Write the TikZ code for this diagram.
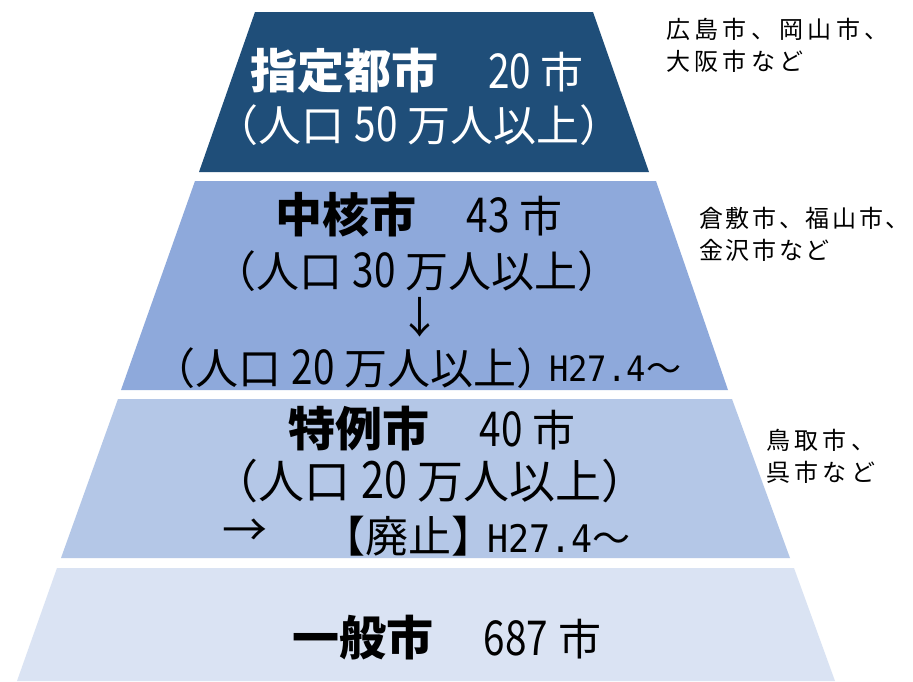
\documentclass[tikz,border=0pt]{standalone}
\usepackage{fontspec}
\newfontfamily\jp{Noto Sans CJK JP}
\newfontfamily\jpsp[LetterSpace=18]{Noto Sans CJK JP}
\newfontfamily\jpspn[LetterSpace=11]{Noto Sans CJK JP}
\newfontfamily\monof{DejaVu Sans Mono}
\definecolor{bandA}{HTML}{1F4E79}
\definecolor{bandB}{HTML}{8EA9DB}
\definecolor{bandC}{HTML}{B4C7E7}
\definecolor{bandD}{HTML}{DAE3F3}
\newcommand\dg[1]{\scalebox{0.9}[1.12]{#1}}
\newcommand\bigb[1]{{\fontsize{47}{47}\selectfont\bfseries #1}}
\newcommand\numr[1]{{\fontsize{43}{43}\selectfont\dg{#1} 市}}
\newcommand\midr[1]{{\fontsize{43}{43}\selectfont #1}}
\newcommand\hsm[2]{{\fontsize{#1}{#1}\selectfont\scalebox{0.92}[1]{\monof #2}\jp ～}}
\begin{document}
\begin{tikzpicture}[x=1pt,y=-1pt,
  txt/.style={inner sep=0pt, font=\jp},
  note/.style={inner sep=0pt, anchor=north west, align=left,
    font=\jpsp\fontsize{24}{32}\selectfont}]
\useasboundingbox (0,0) rectangle (913,681);
\fill[white] (0,0) rectangle (913,681);
% pyramid bands
\fill[bandA] (255,12) -- (593,12) -- (649,172) -- (199,172) -- cycle;
\fill[bandB] (195,181) -- (656,181) -- (728,390) -- (121,390) -- cycle;
\fill[bandC] (118,399) -- (732,399) -- (790,558) -- (61,558) -- cycle;
\fill[bandD] (57,568) -- (794,568) -- (835,681) -- (17,681) -- cycle;
% band 1
\node[txt, text=white] (t1a) at (417,71) {\bigb{指定都市}\hspace{50pt}\numr{20}};
\node[txt, text=white] (t1b) at (419,125) {\midr{（人口 \dg{50} 万人以上）}};
% band 2
\node[txt] (t2a) at (419,215) {\bigb{中核市}\hspace{50pt}\numr{43}};
\node[txt] (t2b) at (417,271) {\midr{（人口 \dg{30} 万人以上）}};
\node[txt] (t2c) at (420,317) {\midr{↓}};
\node[txt] (t2d) at (356,368) {\midr{（人口 \dg{20} 万人以上）}};
\node[txt, anchor=west] (t2e) at (549,369) {\hsm{35}{H27.4}};
% band 3
\node[txt] (t3a) at (432,429) {\bigb{特例市}\hspace{50pt}\numr{40}};
\node[txt] (t3b) at (430,481) {{\fontsize{46}{46}\selectfont （人口 \dg{20} 万人以上）}};
\node[txt] (t3c) at (245,533) {{\fontsize{45}{45}\selectfont →}};
\node[txt] (t3d) at (408,536) {{\fontsize{43}{43}\selectfont 【廃止】}};
\node[txt, anchor=west] (t3e) at (487,538) {\hsm{38}{H27.4}};
% band 4
\node[txt] (t4a) at (447,638) {\bigb{一般市}\hspace{50pt}\numr{687}};
% notes
\node[note] (n1) at (666,18) {広島市、岡山市、\\大阪市など};
\node[note, font=\jpspn\fontsize{24}{32}\selectfont] (n2) at (699,207) {倉敷市、福山市、\\金沢市など};
\node[note] (n3) at (766,429) {鳥取市、\\呉市など};
\end{tikzpicture}
\end{document}
